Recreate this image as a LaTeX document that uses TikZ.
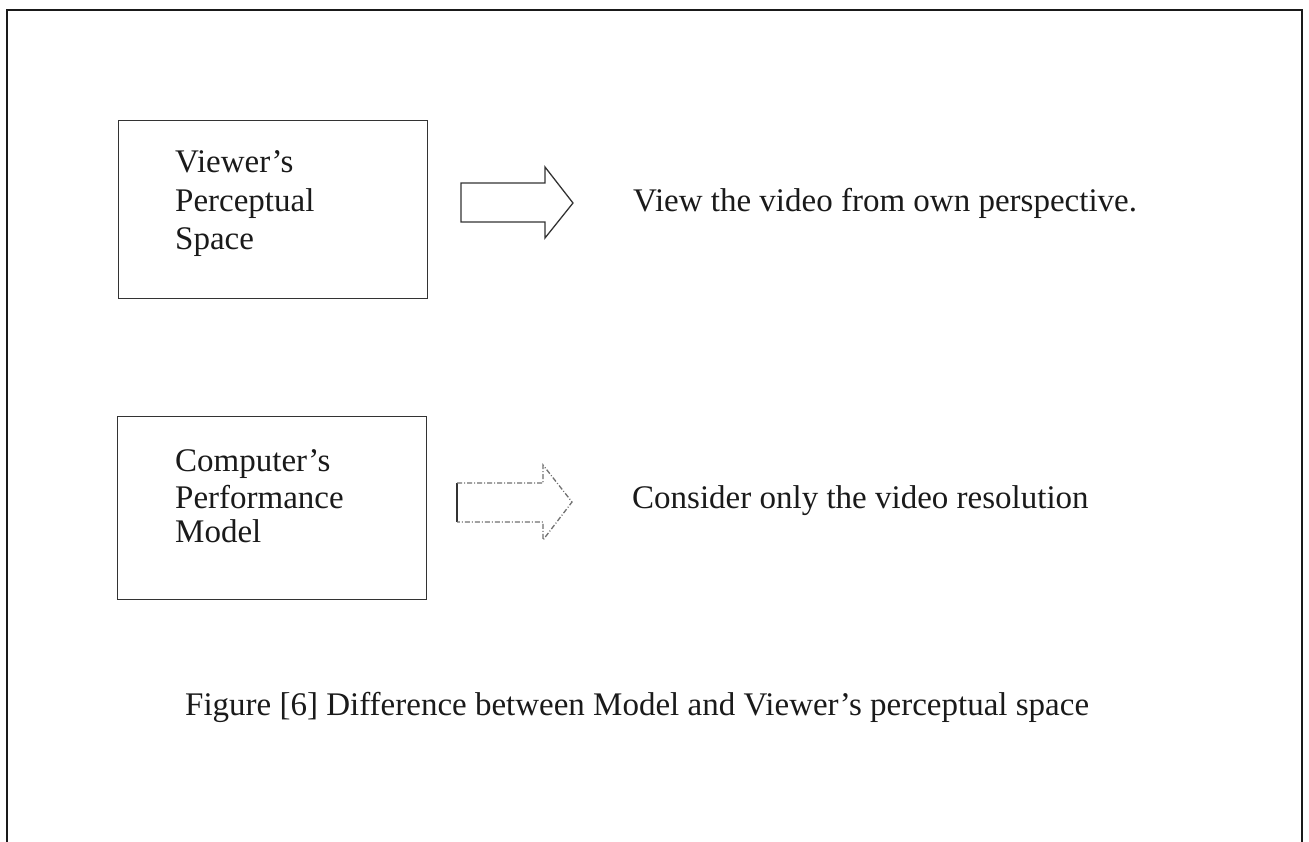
\documentclass[tikz,border=0pt]{standalone}
\usepackage{fontspec}
\setmainfont{Liberation Serif}
\definecolor{ink}{HTML}{1A1A1A}
\definecolor{lineg}{HTML}{333333}
\definecolor{faint}{HTML}{707070}
\tikzset{
  lbl/.style={anchor=base west, inner sep=0pt, text=ink, font=\fontsize{33}{38}\selectfont},
  boxnode/.style={draw=lineg, line width=1.3pt, anchor=north west, inner sep=0pt},
  blockarrow/.style={draw=lineg, line width=1.3pt, line join=miter},
  frame/.style={draw=ink, line width=2.6pt}
}
\begin{document}
\begin{tikzpicture}[x=1pt,y=-1pt]
\useasboundingbox (0,0) rectangle (1309,842);
% outer frame (bottom edge lies beyond the picture)
\draw[frame] (7,860) -- (7,10) -- (1302,10) -- (1302,860);
% boxes
\node[boxnode, minimum width=309pt, minimum height=178pt] (b1) at (118,120) {};
\node[boxnode, minimum width=309pt, minimum height=183pt] (b2) at (117,416) {};
% box texts
\node[lbl] (t1a) at (175,173) {Viewer’s};
\node[lbl] (t1b) at (175,212) {Perceptual};
\node[lbl] (t1c) at (175,250) {Space};
\node[lbl] (t2a) at (175,471) {Computer’s};
\node[lbl] (t2b) at (175,508) {Performance};
\node[lbl] (t2c) at (175,542) {Model};
% block arrows
\draw[blockarrow] (461,183) -- (545,183) -- (545,167) -- (573,203) -- (545,238) -- (545,222) -- (461,222) -- cycle;
\draw[blockarrow] (457,522) -- (457,483);
\draw[blockarrow, draw=faint, dash pattern=on 5pt off 2pt on 1pt off 2pt] (457,483) -- (543,483) -- (543,465) -- (572,502) -- (543,540) -- (543,522) -- (457,522);
% right-hand texts
\node[lbl] (r1) at (633,212) {View the video from own perspective.};
\node[lbl] (r2) at (632,508) {Consider only the video resolution};
% caption
\node[lbl] (cap) at (185,715) {Figure [6] Difference between Model and Viewer’s perceptual space};
\end{tikzpicture}
\end{document}
